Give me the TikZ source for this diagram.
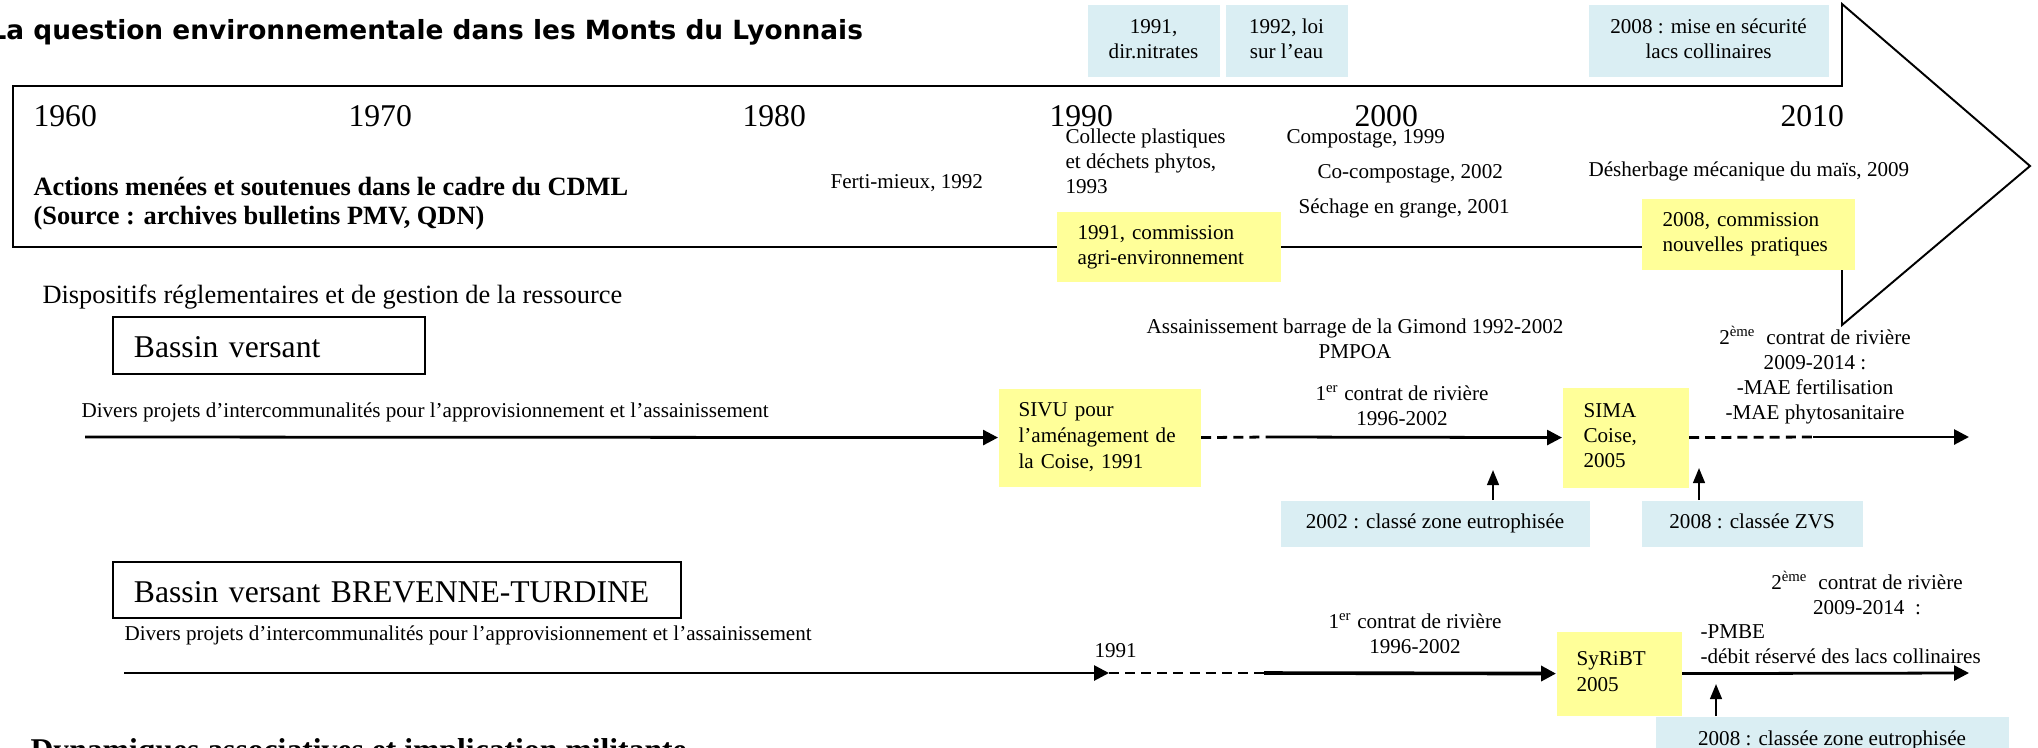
\documentclass[tikz,border=0pt]{standalone}
\usepackage{fontspec}
\setmainfont{Liberation Serif}
\newfontfamily\titlefont{DejaVu Sans}
\usetikzlibrary{arrows.meta}
\newdimen\pxu \pxu=0.36pt
\definecolor{bluebg}{HTML}{DAEEF3}
\definecolor{yellowbg}{HTML}{FFFF99}
\newcommand\bodyfs{\fontsize{7.6pt}{9pt}\selectfont}
\newcommand\TabL[1]{\noindent\begin{tabular}{@{}l@{}}#1\end{tabular}}
\newcommand\TabC[1]{\begin{tabular}{@{}c@{}}#1\end{tabular}}
\newcommand\TabLt[1]{\begin{tabular}[t]{@{}l@{}}#1\end{tabular}}
\newcommand\TabCt[1]{\begin{tabular}[t]{@{}c@{}}#1\end{tabular}}
\tikzset{
  txt/.style={font=\bodyfs, inner sep=0pt, anchor=base west},
  yr/.style={font=\fontsize{11.4pt}{13pt}\selectfont, inner sep=0pt, anchor=base west},
  bluebox/.style={fill=bluebg, inner sep=0pt, font=\bodyfs, anchor=north west},
  yellowbox/.style={fill=yellowbg, inner sep=0pt, font=\bodyfs, anchor=north west, align=left},
  bvbox/.style={draw, line width=0.7pt, inner sep=0pt, anchor=north west, align=left,
     font=\fontsize{11.4pt}{13pt}\selectfont, text height=8.7pt, text depth=0pt},
  arr/.style={line width=1pt, -{Triangle[length=5.4pt,width=5.4pt]}},
  varr/.style={line width=0.8pt, -{Triangle[length=5.4pt,width=4.2pt]}},
  dsh/.style={line width=1pt, dash pattern=on 3.6pt off 2.2pt},
}
\begin{document}
\begin{tikzpicture}[x=0.36pt,y=-0.36pt]
\useasboundingbox (0,0) rectangle (2038,747);
\clip (0,0) rectangle (2038,747);

% title
\node[font=\titlefont\bfseries\fontsize{9.5pt}{11pt}\selectfont, inner sep=0pt, anchor=base west] (title) at (-11,39) {La question environnementale dans les Monts du Lyonnais};

% big arrow
\draw[line width=0.7pt, line join=miter] (13,86) -- (1842,86) -- (1842,4) -- (2030,166) -- (1842,325) -- (1842,247) -- (13,247) -- cycle;

% top blue boxes
\node[bluebox, minimum width=132\pxu, minimum height=72\pxu] (nitr) at (1087,4) {\TabC{1991,\\dir.nitrates}};
\node[bluebox, minimum width=122\pxu, minimum height=72\pxu] (loi) at (1225,4) {\TabC{1992, loi\\sur l'eau}};
\node[bluebox, minimum width=240\pxu, minimum height=72\pxu] (secu) at (1588,4) {\TabC{2008 : mise en sécurité\\lacs collinaires}};

% years
\node[yr] (y1960) at (33,126) {1960};
\node[yr] (y1970) at (348,126) {1970};
\node[yr] (y1980) at (742,126) {1980};
\node[yr] (y1990) at (1049,126) {1990};
\node[yr] (y2000) at (1354,126) {2000};
\node[yr] (y2010) at (1780,126) {2010};

% actions
\node[txt, font=\fontsize{9.5pt}{10.44pt}\selectfont\bfseries] (cdml) at (33,195) {\TabLt{Actions menées et soutenues dans le cadre du CDML\\(Source : archives bulletins PMV, QDN)}};
\node[txt] (ferti) at (830,188) {Ferti-mieux, 1992};
\node[txt] (collecte) at (1065,143) {\TabLt{Collecte plastiques\\et déchets phytos,\\1993}};
\node[txt] (compost) at (1286,143) {Compostage, 1999};
\node[txt] (cocompost) at (1317,178) {Co-compostage, 2002};
\node[txt] (sechage) at (1298,213) {Séchage en grange, 2001};
\node[txt] (desherb) at (1588,176) {Désherbage mécanique du maïs, 2009};

\node[yellowbox, minimum width=224\pxu, minimum height=70\pxu, text width=182\pxu, inner xsep=21\pxu] (agri) at (1056,211) {\TabL{1991, commission\\agri-environnement}};
\node[yellowbox, minimum width=213\pxu, minimum height=71\pxu, text width=171\pxu, inner xsep=21\pxu] (nouv) at (1641,198) {\TabL{2008, commission\\nouvelles pratiques}};

% dispositifs
\node[txt, font=\fontsize{9.5pt}{11pt}\selectfont] (dispo) at (42,303) {Dispositifs réglementaires et de gestion de la ressource};

% Bassin versant (Coise)
\node[bvbox, minimum width=312\pxu, minimum height=57\pxu, text width=270\pxu, inner xsep=21\pxu] (bv1) at (112,316) {Bassin versant};
\node[txt] (div1) at (81,417) {Divers projets d'intercommunalités pour l'approvisionnement et l'assainissement};

\node[yellowbox, minimum width=202\pxu, minimum height=98\pxu, text width=162\pxu, inner xsep=20\pxu, font=\fontsize{7.6pt}{9.36pt}\selectfont] (sivu) at (998,388) {\TabL{SIVU pour\\l'aménagement de\\la Coise, 1991}};
\node[yellowbox, minimum width=126\pxu, minimum height=100\pxu, text width=84\pxu, inner xsep=21\pxu] (sima) at (1562,387) {\TabL{SIMA\\Coise,\\2005}};

\coordinate (s1) at (85,437);
\draw[arr] (s1) -- (sivu.west);
\coordinate (d1) at (1267,437);
\draw[dsh] (sivu.east) -- (d1);
\draw[arr] (d1) -- (sima.west);
\coordinate (d2) at (1813,437);
\draw[dsh] (sima.east) -- (d2);
\coordinate (e1) at (1969,437);
\draw[arr] (d2) -- (e1);

\node[txt, anchor=base] (gimond) at (1355,333) {\TabCt{Assainissement barrage de la Gimond 1992-2002\\PMPOA}};
\node[txt, anchor=base] (c1a) at (1402,400) {\TabCt{1\textsuperscript{er} contrat de rivière\\1996-2002}};
\node[txt, anchor=base] (c2a) at (1815,344) {\TabCt{2\textsuperscript{ème}\ \ contrat de rivière\\2009-2014 :\\-MAE fertilisation\\-MAE phytosanitaire}};

\node[bluebox, minimum width=309\pxu, minimum height=46\pxu] (eu02) at (1280,500) {\TabC{2002 : classé zone eutrophisée}};
\node[bluebox, minimum width=221\pxu, minimum height=46\pxu] (zvs) at (1641,500) {\TabC{2008 : classée ZVS}};
\coordinate (t1) at (1493,470);
\draw[varr] (t1 |- eu02.north) -- (t1);
\coordinate (t2) at (1699,468);
\draw[varr] (t2 |- zvs.north) -- (t2);

% Bassin versant BREVENNE-TURDINE
\node[bvbox, minimum width=568\pxu, minimum height=56\pxu, text width=526\pxu, inner xsep=21\pxu] (bv2) at (112,561) {Bassin versant BREVENNE-TURDINE};
\node[txt] (div2) at (124,640) {Divers projets d'intercommunalités pour l'approvisionnement et l'assainissement};

\node[yellowbox, minimum width=125\pxu, minimum height=84\pxu, text width=85\pxu, inner xsep=20\pxu, font=\fontsize{7.6pt}{9.36pt}\selectfont] (syribt) at (1556,631) {\TabL{SyRiBT\\2005}};

\coordinate (s2) at (124,673);
\coordinate (c91) at (1109,673);
\draw[arr] (s2) -- (c91);
\node[txt] (y91) at (1094,657) {1991};
\coordinate (d3) at (1264,673);
\draw[dsh] (c91) -- (d3);
\draw[arr, line width=1.3pt] (d3) -- (syribt.west);
\coordinate (e2) at (1969,673);
\draw[arr] (syribt.east) -- (e2);

\node[txt, anchor=base] (c1b) at (1415,628) {\TabCt{1\textsuperscript{er} contrat de rivière\\1996-2002}};
\node[txt, anchor=base] (c2b) at (1867,589) {\TabCt{2\textsuperscript{ème}\ \ contrat de rivière\\2009-2014\ \ :}};
\node[txt] (pmbe) at (1700,638) {\TabLt{-PMBE\\-débit réservé des lacs collinaires}};

\node[bluebox, minimum width=353\pxu, minimum height=48\pxu] (eu08) at (1655,716) {\TabC{2008 : classée zone eutrophisée}};
\coordinate (t3) at (1716,684);
\draw[varr] (t3 |- eu08.north) -- (t3);

% bottom (cut) heading
\node[txt, font=\fontsize{11.4pt}{13pt}\selectfont\bfseries] (dyn) at (30,760) {Dynamiques associatives et implication militante};
\end{tikzpicture}
\end{document}
